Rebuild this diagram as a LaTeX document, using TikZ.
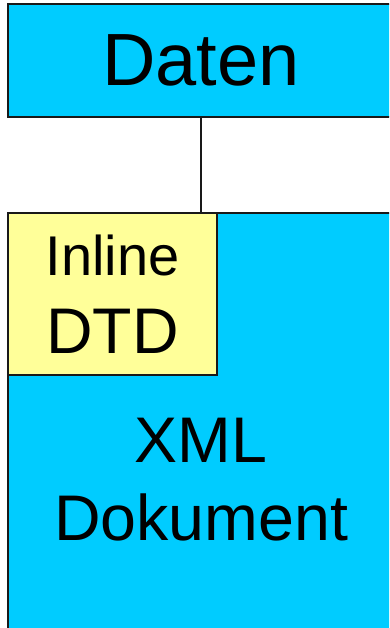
\documentclass[tikz,border=0pt]{standalone}
\usepackage{fontspec}
\setmainfont{Liberation Sans}

\definecolor{boxcyan}{HTML}{00CCFF}
\definecolor{boxyellow}{HTML}{FFFF99}

\begin{document}
\begin{tikzpicture}[x=1pt, y=-1pt, box/.style = {draw=black!90, line width=2pt, inner sep=0pt, outer sep=0pt, align=center}, font=\fontsize{64.5}{78}\selectfont]

\useasboundingbox (0,0) rectangle (389,628);
\clip (0,0) rectangle (389,628);

% Document 
\node[box, fill=boxcyan, minimum width=386pt, minimum height=534pt] (dok) at (201,480) {XML\\Dokument};

% DTD 
\node[box, fill=boxyellow, minimum width=209pt, minimum height=162pt] (dtd) at (112.5,294) {{\fontsize{56}{73}\selectfont Inline}\\{\fontsize{64.5}{73}\selectfont DTD}};

% Data 
\node[box, fill=boxcyan, minimum width=386pt, minimum height=113pt, font=\fontsize{74}{80}\selectfont] (daten) at (201,60.5) {Daten};

% Line
\draw[black!90, line width=2.5pt] (daten.south) -- (dok.north);

\end{tikzpicture}
\end{document}
